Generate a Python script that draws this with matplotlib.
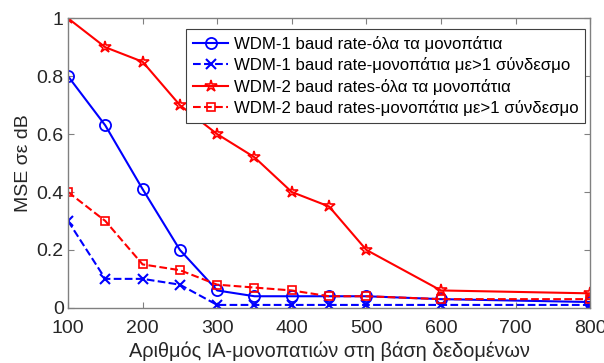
import matplotlib
matplotlib.use("Agg")
import matplotlib.pyplot as plt
from matplotlib.ticker import FuncFormatter

plt.rcParams['font.family'] = ['Liberation Sans', 'DejaVu Sans']

x = [100, 150, 200, 250, 300, 350, 400, 450, 500, 600, 800]
wdm1_all = [0.80, 0.63, 0.41, 0.20, 0.06, 0.04, 0.04, 0.04, 0.04, 0.03, 0.02]
wdm1_multi = [0.30, 0.10, 0.10, 0.08, 0.01, 0.01, 0.01, 0.01, 0.01, 0.01, 0.01]
wdm2_all = [1.00, 0.90, 0.85, 0.70, 0.60, 0.52, 0.40, 0.35, 0.20, 0.06, 0.05]
wdm2_multi = [0.40, 0.30, 0.15, 0.13, 0.08, 0.07, 0.06, 0.04, 0.04, 0.03, 0.03]

labels = [
    "WDM-1 baud rate-όλα τα μονοπάτια",
    "WDM-1 baud rate-μονοπάτια με>1 σύνδεσμο",
    "WDM-2 baud rates-όλα τα μονοπάτια",
    "WDM-2 baud rates-μονοπάτια με>1 σύνδεσμο",
]
xticks = [100, 200, 300, 400, 500, 600, 700, 800]
yticks = [0, 0.2, 0.4, 0.6, 0.8, 1.0]

blue = "#0000ff"
red = "#ff0000"

fig = plt.figure(figsize=(6.04, 3.63), dpi=100)
ax = fig.add_axes([0.1126, 0.152, 0.8644, 0.7976])

ax.plot(x, wdm1_all, '-', color=blue, lw=1.5, marker='o', ms=8, mfc='none', mew=1.3, label=labels[0])
ax.plot(x, wdm1_multi, '--', color=blue, lw=1.5, marker='x', ms=7, mew=1.5, label=labels[1])
ax.plot(x, wdm2_all, '-', color=red, lw=1.5, marker='*', ms=9, mfc='none', mew=1.2, label=labels[2])
ax.plot(x, wdm2_multi, '--', color=red, lw=1.5, marker='s', ms=6, mfc='none', mew=1.2, label=labels[3])

ax.set_xlim(100, 800)
ax.set_ylim(0, 1)
ax.set_xticks(xticks)
ax.set_yticks(yticks)
ax.yaxis.set_major_formatter(FuncFormatter(lambda v, p: f"{v:g}"))

for s in ax.spines.values():
    s.set_color("#808080")
    s.set_linewidth(1.0)
ax.tick_params(direction='in', top=True, right=True, length=4, width=0.8,
               color="#808080", labelsize=14, labelcolor="#262626")
ax.tick_params(axis='x', pad=9)
ax.tick_params(axis='y', pad=3)

ax.set_xlabel("Αριθμός ΙΑ-μονοπατιών στη βάση δεδομένων", fontsize=14.3, color="#262626", labelpad=3)
ax.set_ylabel("MSE σε dB", fontsize=14, color="#262626", labelpad=3)

leg = ax.legend(loc='upper right', bbox_to_anchor=(0.99, 0.963), fontsize=12.1,
                frameon=True, fancybox=False, edgecolor="#404040", framealpha=1,
                handlelength=2.1, handletextpad=0.3, borderpad=0.4, labelspacing=0.33,
                borderaxespad=0)
leg.get_frame().set_linewidth(0.8)

fig.savefig("out.png", dpi=100)
